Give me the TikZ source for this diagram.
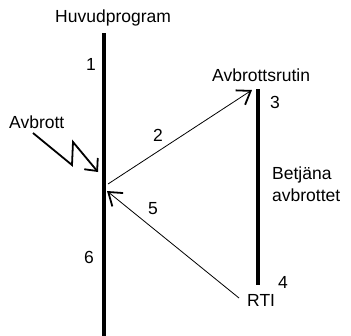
\documentclass[tikz,border=0pt]{standalone}
\usepackage{fontspec}
\setmainfont{Liberation Sans}
\usetikzlibrary{arrows.meta}
\tikzset{
    prog/.style={line width=4.5bp}, % 程序的执行线
    jump/.style={line width=0.8bp, -{Straight Barb[angle=70:15bp, line width=1.8bp]}}, % 跳转箭头
    bolt/.style={line width=1.8bp, -{Straight Barb[angle=85:13bp, line width=1.8bp]}}, % 中断信号
    lbl/.style={inner sep=0pt, anchor=base west, font=\fontsize{17.5bp}{21bp}\selectfont} % 文字标签
}

\begin{document}
\begin{tikzpicture}[x=1bp, y=-1bp]
    \useasboundingbox (0,0) rectangle (351,336);
    \def\xmain{104} \def\xsub{258}

    \coordinate (mtop) at (\xmain,33);
    \coordinate (mbot) at (\xmain,336);
    \coordinate (stop) at (\xsub,89);
    \coordinate (sbot) at (\xsub,285);
    \draw[prog] (mtop) -- (mbot);
    \draw[prog] (stop) -- (sbot);

    \node[lbl] (huvud) at (55,22.5) {Huvudprogram};
    \node[lbl] (rutin) at (212,81.5) {Avbrottsrutin};
    \node[lbl] (avb) at (9,128.5) {Avbrott};
    \node[lbl] (betj) at (272,179.5) {Betjäna};
    \node[lbl] (avbt) at (272,201.5) {avbrottet};
    \node[lbl] (rti) at (247,306.5) {RTI};
    \foreach \n/\x/\y in {1/91/70.5, 2/158/141.5, 3/275/108.5, 4/283/288.5, 5/153/214.5, 6/89/263.5}
        {\node[lbl, anchor=base] (n\n) at (\x,\y) {\n};}

    \coordinate (out) at (108,184);
    \coordinate (back) at (107,191);
    \coordinate (entry) at (252,90);
    \coordinate (ret) at (239,298);
    \draw[jump] (out) -- (entry);
    \draw[jump] (ret) -- (back);

    \coordinate (b0) at (33,133);
    \coordinate (b1) at (72,165);
    \coordinate (b2) at (73,142);
    \coordinate (b3) at (98,172);
    \draw[bolt] (b0) -- (b1) -- (b2) -- (b3);
\end{tikzpicture}
\end{document}
